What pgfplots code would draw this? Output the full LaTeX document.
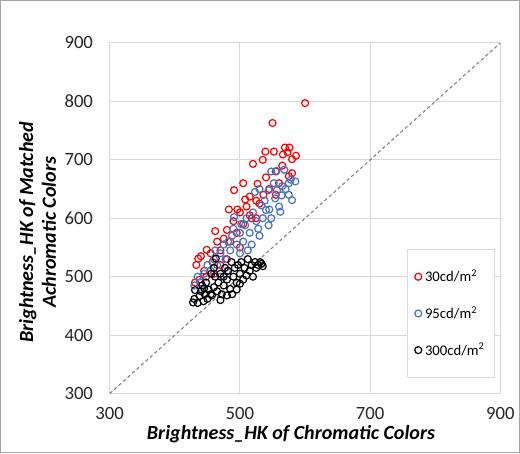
\documentclass[border=0pt]{standalone}
\usepackage{pgfplots}
\pgfplotsset{compat=1.18}
\usepackage{fontspec}
\setmainfont{Carlito}
\definecolor{gridgray}{HTML}{D9D9D9}
\definecolor{ptred}{HTML}{FF0000}
\definecolor{ptblue}{HTML}{4472C4}

\begin{document}
\begin{tikzpicture}
\begin{axis}[
    scale only axis,
    width=292.5pt, height=262.5pt,
    xmin=300, xmax=900, ymin=300, ymax=900,
    xtick={300,500,700,900},
    ytick={300,400,500,600,700,800,900},
    major tick length=0pt,
    grid=major,
    grid style={gridgray, line width=0.8pt},
    axis line style={gridgray, line width=0.8pt},
    /pgf/number format/assume math mode=true,
    tick label style={font=\fontsize{14}{16}\selectfont, text=black!85},
    yticklabel shift=9pt,
    xticklabel shift=7pt,
    xlabel={\textbf{\textit{Brightness\_HK of Chromatic Colors}}},
    xlabel style={at={(axis description cs:0.464,0)}, anchor=center, yshift=-30pt,
        font=\fontsize{15}{17}\selectfont},
    ylabel={\textbf{\textit{Brightness\_HK of Matched}}\\\textbf{\textit{Achromatic Colors}}},
    ylabel style={at={(axis description cs:0,0.46)}, anchor=center, yshift=54pt,
        align=center, font=\fontsize{15}{17}\selectfont},
    legend style={at={(axis description cs:0.7615,0.411)}, anchor=north west,
        draw=gridgray, fill=white, font=\fontsize{11}{13}\selectfont,
        row sep=13pt, inner xsep=5pt, inner ysep=13pt,
        /tikz/every even column/.append style={column sep=0pt}},
    legend cell align=left,
    legend image code/.code={\draw[#1] (3.5pt,0pt) circle (2.6pt);},
]
% diagonal y = x
\addplot[forget plot, black!50, line width=0.8pt, dash pattern=on 2.5pt off 2pt]
    coordinates {(300,300) (900,900)};

% 30 cd/m2
\addplot[only marks, mark=o, mark size=2.6pt, ptred, line width=0.9pt] coordinates {
(600,797) (550,763) (569,721) (576,721) (539,714) (552,714) (566,709) (573,713)
(586,707) (580,701) (520,693) (580,677) (491,648) (527,659) (515,637) (508,632)
(536,640) (483,615) (496,615) (518,600) (462,578) (436,531) (433,520) (440,535)
(445,510) (449,546) (455,540) (458,525) (448,500) (438,495) (465,560) (470,545)
(475,565) (480,580) (485,560) (490,595) (495,575) (500,610) (505,590) (510,620)
(515,605) (525,630) (530,625) (545,650) (555,680) (560,660) (565,690) (575,672)
(540,670) (500,550) (470,520) (460,505) (480,530) (525,600) (555,640) (535,700)
(505,660) (431,490)
};
% 95 cd/m2
\addplot[only marks, mark=o, mark size=2.6pt, ptblue, line width=0.9pt] coordinates {
(556,681) (568,683) (585,663) (578,666) (580,631) (523,645) (544,648) (557,648)
(564,639) (533,622) (554,634) (562,611) (491,602) (540,614) (508,588) (490,582)
(528,582) (544,588) (430,485) (435,500) (440,490) (445,505) (450,520) (455,510)
(460,530) (462,545) (465,520) (470,540) (475,555) (478,530) (482,560) (485,545)
(488,570) (495,555) (500,575) (502,590) (505,560) (510,600) (515,575) (518,555)
(520,610) (525,595) (530,570) (535,600) (538,630) (545,615) (548,600) (552,660)
(560,620) (565,655) (570,650) (575,640) (548,680) (500,540) (512,545) (470,500)
(480,510) (442,478) (530,650) (575,660)
};
% 300 cd/m2
\addplot[only marks, mark=o, mark size=2.6pt, black, line width=0.9pt] coordinates {
(428,456) (430,462) (431,477) (435,455) (438,467) (440,475) (442,485) (444,458)
(446,470) (448,490) (450,462) (452,478) (456,505) (457,468) (460,482) (462,500)
(463,531) (465,475) (467,490) (470,505) (472,470) (475,485) (477,515) (480,495)
(482,510) (485,479) (487,525) (490,500) (492,515) (495,490) (497,520) (500,505)
(502,525) (505,495) (507,515) (510,502) (512,530) (515,510) (518,520) (520,500)
(523,525) (525,515) (528,520) (531,525) (533,522) (535,518) (470,460) (480,468)
(495,478) (455,470) (445,480) (500,488) (460,515) (475,500) (488,470)
};
\legend{30cd/m\textsuperscript{2}, 95cd/m\textsuperscript{2}, 300cd/m\textsuperscript{2}}
\end{axis}
\draw[black!35, line width=0.75pt] (-81.75pt,-44.25pt) rectangle (306.75pt,294.25pt);
\end{tikzpicture}
\end{document}
